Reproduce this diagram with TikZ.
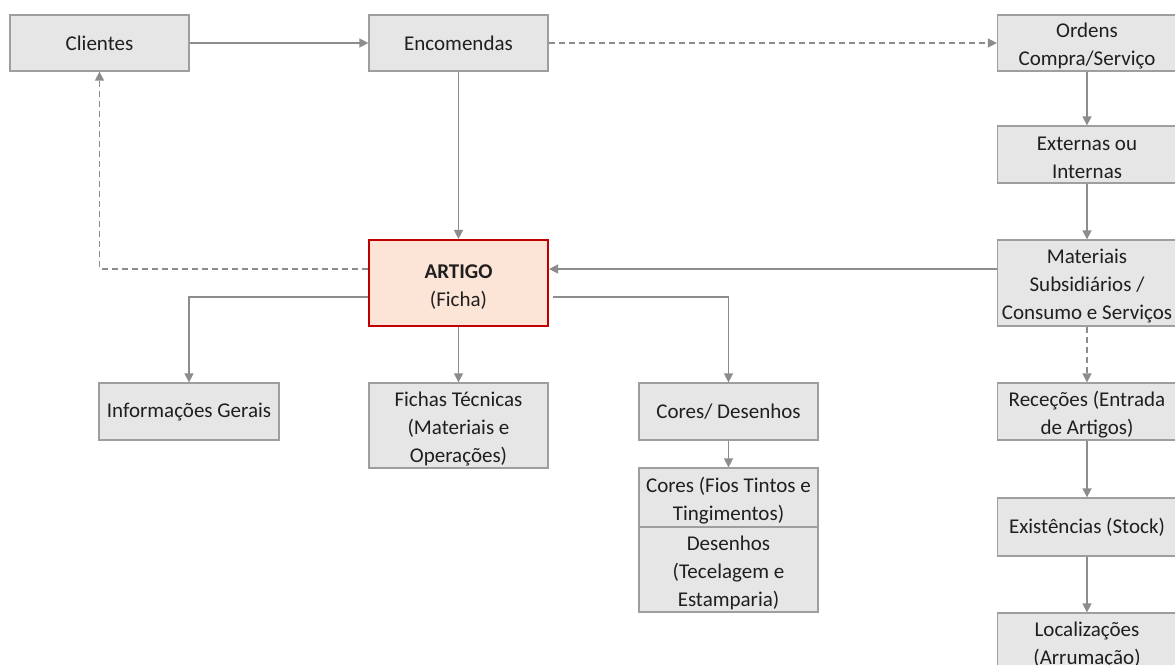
\documentclass[tikz,border=0pt]{standalone}
\usepackage{fontspec}
\setmainfont{Carlito}
\usetikzlibrary{arrows.meta}
\definecolor{boxfill}{HTML}{E6E6E6}
\definecolor{boxline}{HTML}{9E9E9E}
\definecolor{arrowc}{HTML}{8C8C8C}
\definecolor{txt}{HTML}{1F1F1F}
\definecolor{redline}{HTML}{C00000}
\definecolor{pinkfill}{HTML}{FCE4D6}
\newcommand{\tstrut}{\rule{0pt}{21pt}}
\tikzset{
  box/.style={draw=boxline, fill=boxfill, line width=1.3pt, minimum width=179pt,
    inner sep=0pt, align=center, text=txt,
    font=\fontsize{21}{28}\selectfont},
  conn/.style={draw=arrowc, line width=1.5pt, -{Triangle[width=9pt,length=9pt]}},
  dconn/.style={conn, dash pattern=on 6pt off 4pt},
}
\begin{document}
\begin{tikzpicture}[x=1pt,y=-1pt]
\fill[white] (0,0) rectangle (1175,664);
\useasboundingbox (0,0) rectangle (1175,664);
% nodes
\node[box, minimum height=56pt] (cli) at (99.5,43) {Clientes};
\node[box, minimum height=56pt] (enc) at (458.5,43) {Encomendas};
\node[box, minimum height=56pt] (ord) at (1087,43) {\tstrut Ordens\\Compra/Serviço};
\node[box, minimum height=57pt] (ext) at (1087,154.5) {\tstrut Externas ou\\Internas};
\node[box, minimum height=86pt] (mat) at (1087,283) {\tstrut Materiais\\Subsidiários /\\Consumo e Serviços};
\node[box, minimum height=57pt] (rec) at (1087,411.5) {\tstrut Receções (Entrada\\de Artigos)};
\node[box, minimum height=58pt] (exi) at (1087,527) {Existências (Stock)};
\node[box, minimum height=58pt] (loc) at (1087,642) {\tstrut Localizações\\(Arrumação)};
\node[box, draw=redline, fill=pinkfill, line width=2.2pt, minimum height=86pt] (art) at (458.5,283) {\tstrut\textbf{ARTIGO}\\(Ficha)};
\node[box, minimum height=57pt, minimum width=180pt] (inf) at (189,411.5) {\rule{0pt}{16pt}Informações Gerais};
\node[box, minimum height=85pt] (fic) at (458.5,425.5) {\tstrut Fichas Técnicas\\(Materiais e\\Operações)};
\node[box, minimum height=57pt] (cd) at (728.5,411.5) {Cores/ Desenhos};
\node[box, minimum height=59pt] (cor) at (728.5,497.5) {\tstrut Cores (Fios Tintos e\\Tingimentos)};
\node[box, minimum height=85pt] (des) at (728.5,569.5) {\tstrut Desenhos\\(Tecelagem e\\Estamparia)};
% connectors
\draw[conn] (cli) -- (enc);
\draw[dconn] (enc) -- (ord);
\draw[conn] (enc) -- (art);
\draw[dconn] (art.west |- 0,269) -- (99.5,269) -- (cli.south);
\draw[conn] (art.west |- 0,297) -- (inf.north |- 0,297) -- (inf.north);
\draw[conn] (art) -- (fic);
\draw[conn] ([xshift=4pt]art.east |- 0,297) -- (cd.north |- 0,297) -- (cd.north);
\draw[conn] (cd) -- (cor);
\draw[conn] (ord) -- (ext);
\draw[conn] (ext) -- (mat);
\draw[conn] (mat.west |- 0,269) -- (art.east |- 0,269);
\draw[dconn] (mat) -- (rec);
\draw[conn] (rec) -- (exi);
\draw[conn] (exi) -- (loc);
\end{tikzpicture}
\end{document}
